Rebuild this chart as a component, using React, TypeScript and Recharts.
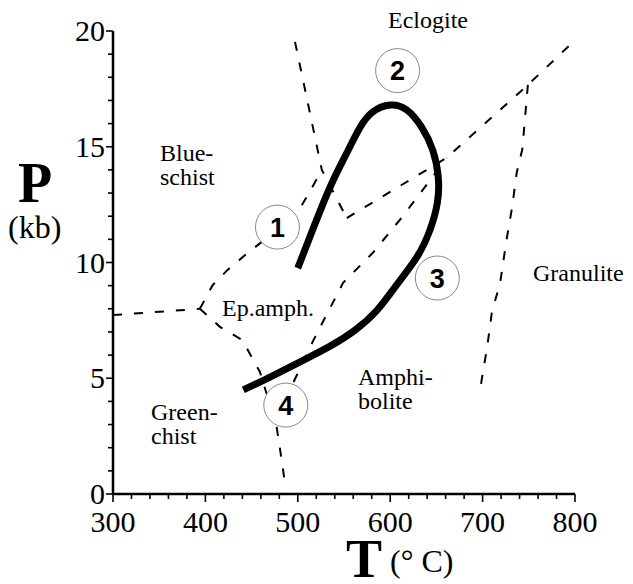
import { ComposedChart, Line, Scatter, XAxis, YAxis } from "recharts";

const SERIF = '"Liberation Serif", "Times New Roman", serif';
const SANS = '"Liberation Sans", Arial, sans-serif';

// axis ticks (T in °C, P in kb)
const T_TICKS = [300, 320, 340, 360, 380, 400, 420, 440, 460, 480, 500, 520, 540, 560, 580, 600, 620, 640, 660, 680, 700, 720, 740, 760, 780, 800];
const T_LABELS = [300, 400, 500, 600, 700, 800];
const P_TICKS = [0, 1, 2, 3, 4, 5, 6, 7, 8, 9, 10, 11, 12, 13, 14, 15, 16, 17, 18, 19, 20];
const P_LABELS = [0, 5, 10, 15, 20];

// facies boundaries (dashed)
const greenEpLeft = [
  { t: 300, p: 7.73 },
  { t: 394, p: 8.0 },
];
const blueEp = [
  { t: 394, p: 8.0 },
  { t: 408, p: 9.03 },
  { t: 424, p: 9.68 },
  { t: 443, p: 10.32 },
  { t: 461, p: 10.89 },
  { t: 500, p: 12.18 },
  { t: 511, p: 12.92 },
  { t: 526, p: 14.0 },
];
const eclBlue = [
  { t: 497, p: 19.53 },
  { t: 526, p: 14.0 },
  { t: 553, p: 11.92 },
];
const eclAmph = [
  { t: 553, p: 11.92 },
  { t: 661, p: 14.52 },
  { t: 749, p: 17.67 },
  { t: 798, p: 19.53 },
];
const epAmph = [
  { t: 476, p: 3.2 },
  { t: 499, p: 5.14 },
  { t: 516, p: 6.57 },
  { t: 549, p: 9.12 },
  { t: 581, p: 10.41 },
  { t: 613, p: 11.97 },
  { t: 641, p: 13.44 },
  { t: 661, p: 14.52 },
];
const greenAmph = [
  { t: 394, p: 8.0 },
  { t: 416, p: 7.21 },
  { t: 440, p: 6.65 },
  { t: 450, p: 5.92 },
  { t: 459, p: 5.27 },
  { t: 465, p: 4.49 },
  { t: 476, p: 3.2 },
  { t: 483, p: 1.34 },
  { t: 486, p: 0.48 },
];
const amphGran = [
  { t: 749, p: 17.67 },
  { t: 743, p: 14.89 },
  { t: 737, p: 13.9 },
  { t: 732, p: 12.4 },
  { t: 726, p: 11.0 },
  { t: 719, p: 9.13 },
  { t: 710, p: 7.84 },
  { t: 705, p: 6.36 },
  { t: 699, p: 4.93 },
  { t: 697, p: 4.37 },
];

// P-T path (thick)
const ptPath = [
  { t: 441, p: 4.5 },
  { t: 470, p: 5.05 },
  { t: 502, p: 5.7 },
  { t: 535, p: 6.39 },
  { t: 562, p: 7.08 },
  { t: 586, p: 7.95 },
  { t: 607, p: 9.03 },
  { t: 629, p: 10.24 },
  { t: 643, p: 11.4 },
  { t: 651, p: 12.57 },
  { t: 652, p: 13.69 },
  { t: 646, p: 14.86 },
  { t: 634, p: 15.85 },
  { t: 618, p: 16.59 },
  { t: 600, p: 16.8 },
  { t: 581, p: 16.5 },
  { t: 567, p: 15.81 },
  { t: 553, p: 14.73 },
  { t: 535, p: 13.26 },
  { t: 516, p: 11.4 },
  { t: 500, p: 9.76 },
];

// numbered stages along the path
const stages = [
  { id: 1, t: 478, p: 11.53 },
  { id: 2, t: 608, p: 18.29 },
  { id: 3, t: 651, p: 9.33 },
  { id: 4, t: 487, p: 3.84 },
];

const DASH = "9 12";

function TTick({ x, y, payload }: any) {
  const major = T_LABELS.includes(payload.value);
  return (
    <g>
      <line x1={x} x2={x} y1={y} y2={y + (major ? 8 : 5)} stroke="#000" strokeWidth={1.6} />
      {major && (
        <text x={x} y={y + 38} textAnchor="middle" fontFamily={SERIF} fontSize={30} fill="#000">
          {payload.value}
        </text>
      )}
    </g>
  );
}

function PTick({ x, y, payload }: any) {
  const major = P_LABELS.includes(payload.value);
  return (
    <g>
      <line x1={x} x2={x - (major ? 7 : 5)} y1={y} y2={y} stroke="#000" strokeWidth={1.6} />
      {major && (
        <text x={x - 8} y={y} dy={10} textAnchor="end" fontFamily={SERIF} fontSize={30} fill="#000">
          {payload.value}
        </text>
      )}
    </g>
  );
}

function StageMark({ cx, cy, payload }: any) {
  return (
    <g>
      <circle cx={cx} cy={cy} r={22} fill="#fff" stroke="#888" strokeWidth={1} />
      <text x={cx} y={cy} dy={9.5} textAnchor="middle" fontFamily={SANS} fontWeight={700} fontSize={27} fill="#000">
        {payload.id}
      </text>
    </g>
  );
}

const regionLabels = [
  { lines: ["Eclogite"], x: 420, y: 12, anchor: "middle" },
  { lines: ["Blue-", "schist"], x: 152, y: 145, anchor: "start" },
  { lines: ["Ep.amph."], x: 214, y: 300, anchor: "start" },
  { lines: ["Green-", "chist"], x: 143, y: 404, anchor: "start" },
  { lines: ["Amphi-", "bolite"], x: 350, y: 369, anchor: "start" },
  { lines: ["Granulite"], x: 525, y: 265, anchor: "start" },
];

export default function App() {
  const W = 625;
  const H = 576;
  return (
    <div style={{ position: "relative", width: W, height: H, background: "#fff" }}>
      <ComposedChart width={W} height={H} margin={{ top: 23, right: 58, left: 0, bottom: 0 }}>
        <XAxis
          type="number"
          dataKey="t"
          domain={[300, 800]}
          ticks={T_TICKS}
          interval={0}
          allowDataOverflow
          height={90}
          tickSize={0}
          tickMargin={0}
          tickLine={false}
          tick={<TTick />}
          axisLine={{ stroke: "#000", strokeWidth: 2.5 }}
        />
        <YAxis
          type="number"
          dataKey="p"
          domain={[0, 20]}
          ticks={P_TICKS}
          interval={0}
          allowDataOverflow
          width={105}
          tickSize={0}
          tickMargin={0}
          tickLine={false}
          tick={<PTick />}
          axisLine={{ stroke: "#000", strokeWidth: 2.5 }}
        />
        {[greenEpLeft, blueEp, eclBlue, eclAmph, epAmph, greenAmph, amphGran].map((d, i) => (
          <Line
            key={i}
            data={d}
            dataKey="p"
            type="linear"
            stroke="#000"
            strokeWidth={2}
            strokeDasharray={DASH}
            dot={false}
            activeDot={false}
            isAnimationActive={false}
          />
        ))}
        <Line
          data={ptPath}
          dataKey="p"
          type="natural"
          stroke="#000"
          strokeWidth={7}
          strokeLinecap="butt"
          dot={false}
          activeDot={false}
          isAnimationActive={false}
        />
        <Scatter data={stages} dataKey="p" shape={<StageMark />} isAnimationActive={false} />
      </ComposedChart>
      <svg width={W} height={H} style={{ position: "absolute", left: 0, top: 0, pointerEvents: "none" }}>
        {regionLabels.map((l, i) => (
          <text key={i} x={l.x} y={l.y} textAnchor={l.anchor as any} dominantBaseline="central" fontFamily={SERIF} fontSize={24} fill="#000">
            {l.lines.map((s, j) => (
              <tspan key={j} x={l.x} dy={j === 0 ? 0 : 24}>
                {s}
              </tspan>
            ))}
          </text>
        ))}
        <text x={10} y={175} dominantBaseline="central" fontFamily={SERIF} fontWeight={700} fontSize={56}>
          P
        </text>
        <text x={0} y={219} dominantBaseline="central" fontFamily={SERIF} fontSize={32}>
          (kb)
        </text>
        <text x={338} y={569} fontFamily={SERIF} fontWeight={700} fontSize={54}>
          T
        </text>
        <text x={382} y={564} fontFamily={SERIF} fontSize={32}>
          (° C)
        </text>
      </svg>
    </div>
  );
}
